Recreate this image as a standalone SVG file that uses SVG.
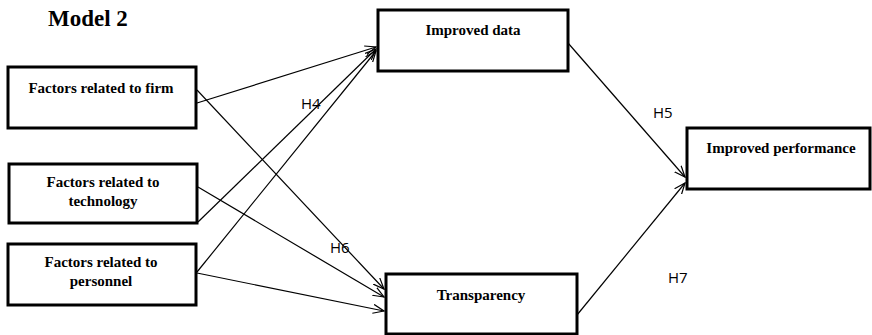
<svg xmlns="http://www.w3.org/2000/svg" width="872" height="335" viewBox="0 0 872 335">
  <style>
    .box { fill: #fff; stroke: #000; stroke-width: 3; }
    .lbl { font-family: "Liberation Serif", "Times New Roman", serif; font-weight: bold; font-size: 15px; fill: #000; text-anchor: middle; }
    .hyp { font-family: "Open Sans", "Noto Sans", sans-serif; font-size: 15px; fill: #000; }
    .title { font-family: "Liberation Serif", "Times New Roman", serif; font-weight: bold; font-size: 23px; fill: #000; }
    .edge { stroke: #000; stroke-width: 1.2; fill: none; marker-end: url(#arrow); }
  </style>
  <defs>
    <marker id="arrow" viewBox="0 0 12 10" refX="11" refY="5" markerWidth="12" markerHeight="10" markerUnits="userSpaceOnUse" orient="auto">
      <path d="M0,0.5 L11,5 L0,9.5" fill="none" stroke="#000" stroke-width="1.2"/>
    </marker>
  </defs>
  <rect width="872" height="335" fill="#fff"/>

  <text class="title" x="48" y="26">Model 2</text>

  <g id="connectors">
    <line class="edge" x1="197" y1="103" x2="376" y2="47"/>
    <line class="edge" x1="197" y1="90" x2="384" y2="289"/>
    <line class="edge" x1="198" y1="187" x2="384" y2="297"/>
    <line class="edge" x1="198" y1="222" x2="376" y2="49"/>
    <line class="edge" x1="197" y1="272" x2="376" y2="51"/>
    <line class="edge" x1="197" y1="273" x2="384" y2="311"/>
    <line class="edge" x1="568" y1="43" x2="685" y2="177"/>
    <line class="edge" x1="577" y1="315" x2="685" y2="183"/>
  </g>

  <g id="labels">
    <text class="hyp" x="301" y="109">H4</text>
    <text class="hyp" x="653" y="118">H5</text>
    <text class="hyp" x="330" y="253">H6</text>
    <text class="hyp" x="668" y="283">H7</text>
  </g>

  <g id="firm">
    <rect class="box" x="8" y="67" width="188" height="61"/>
    <text class="lbl" x="101" y="93">Factors related to firm</text>
  </g>
  <g id="technology">
    <rect class="box" x="9" y="164" width="188" height="59"/>
    <text class="lbl" x="103" y="187">Factors related to</text>
    <text class="lbl" x="103" y="206">technology</text>
  </g>
  <g id="personnel">
    <rect class="box" x="8" y="244" width="188" height="61"/>
    <text class="lbl" x="101" y="267">Factors related to</text>
    <text class="lbl" x="101" y="286">personnel</text>
  </g>
  <g id="improved-data">
    <rect class="box" x="378" y="10" width="190" height="61"/>
    <text class="lbl" x="473" y="35">Improved data</text>
  </g>
  <g id="improved-performance">
    <rect class="box" x="687" y="128" width="183" height="61"/>
    <text class="lbl" x="781" y="153">Improved performance</text>
  </g>
  <g id="transparency">
    <rect class="box" x="386" y="274" width="191" height="60"/>
    <text class="lbl" x="481" y="300">Transparency</text>
  </g>
</svg>
